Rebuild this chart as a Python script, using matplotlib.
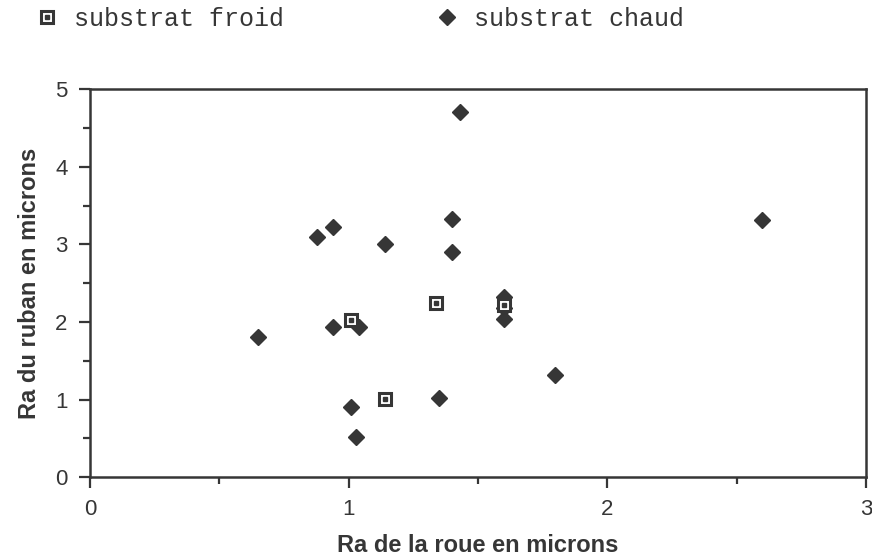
import matplotlib
matplotlib.use("Agg")
import matplotlib.pyplot as plt
from matplotlib.ticker import MultipleLocator
from matplotlib.legend_handler import HandlerTuple

# Roughness of the wheel (x) against roughness of the ribbon (y), in microns
froid_x = [1.01, 1.14, 1.34, 1.60]
froid_y = [2.03, 1.01, 2.24, 2.22]

chaud_x = [0.65, 0.88, 0.94, 0.94, 1.04, 1.01, 1.03, 1.14, 1.43, 1.40, 1.40,
           1.35, 1.60, 1.60, 1.60, 1.80, 2.60]
chaud_y = [1.80, 3.10, 3.23, 1.93, 1.93, 0.91, 0.52, 3.01, 4.71, 3.33, 2.90,
           1.02, 2.32, 2.18, 2.04, 1.31, 3.32]

ink = "#363636"
sans = ["Liberation Sans", "DejaVu Sans"]
mono = ["Liberation Mono", "DejaVu Sans Mono"]

fig = plt.figure(figsize=(8.72, 5.58), dpi=100)
ax = fig.add_axes([0.103, 0.145, 0.890, 0.695])

hot, = ax.plot(chaud_x, chaud_y, linestyle="none", marker="D", ms=8.5,
               color=ink, mec=ink, zorder=3)
cold_box, = ax.plot(froid_x, froid_y, linestyle="none", marker="s", ms=8.5,
                    mfc="white", mec=ink, mew=2.2, zorder=4)
cold_dot, = ax.plot(froid_x, froid_y, linestyle="none", marker="s", ms=2.2,
                    color=ink, zorder=5)

ax.set_xlim(0, 3)
ax.set_ylim(0, 5)
ax.xaxis.set_major_locator(MultipleLocator(1))
ax.xaxis.set_minor_locator(MultipleLocator(0.5))
ax.yaxis.set_major_locator(MultipleLocator(1))
ax.yaxis.set_minor_locator(MultipleLocator(0.5))
ax.tick_params(which="major", direction="out", length=8, width=1.6, color=ink,
               labelsize=16, labelcolor=ink, pad=8)
ax.tick_params(which="minor", direction="out", length=5, width=1.6, color=ink)
for lab in ax.get_xticklabels() + ax.get_yticklabels():
    lab.set_family(sans)
for sp in ax.spines.values():
    sp.set_linewidth(1.8)
    sp.set_color(ink)

ax.set_xlabel("Ra de la roue en microns", fontsize=17, fontweight="bold",
              family=sans, color=ink, labelpad=10)
ax.set_ylabel("Ra du ruban en microns", fontsize=17, fontweight="bold",
              family=sans, color=ink, labelpad=10)

fig.legend([(cold_box, cold_dot), hot], ["substrat froid", "substrat chaud"],
           handler_map={tuple: HandlerTuple(ndivide=1)},
           loc="upper left", bbox_to_anchor=(0.028, 1.006), ncol=2,
           frameon=False, handlelength=1.0, handletextpad=0.6,
           columnspacing=6.0, borderaxespad=0.0,
           prop={"family": mono, "size": 18}, labelcolor=ink)

fig.savefig("out.png", dpi=100, facecolor="white")
